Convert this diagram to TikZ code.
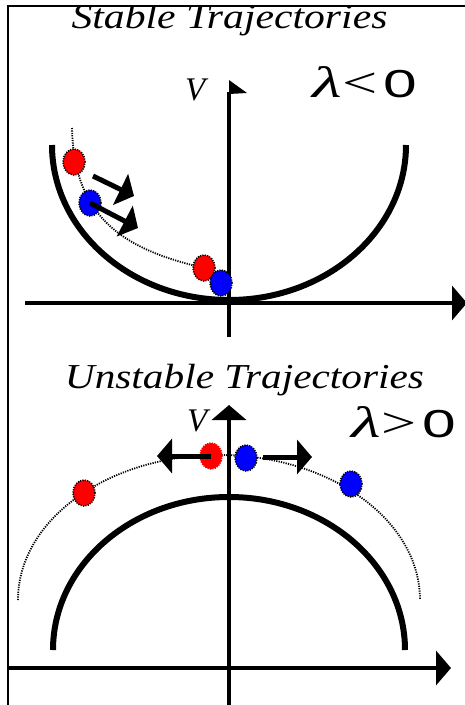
\documentclass[tikz,border=0pt]{standalone}
\usepackage{fontspec}
\setmainfont{Liberation Serif}
\setsansfont{Liberation Sans}
\usetikzlibrary{arrows.meta,shapes.geometric}
\newcommand{\lamsym}{\scalebox{1.55}[1]{\fontsize{44}{44}\selectfont\textit{λ}}}
\newcommand{\zerosym}{\scalebox{1.55}[1]{\textsf{0}}}
\begin{document}
\begin{tikzpicture}[x=1pt,y=-1pt,
  frameline/.style={line width=2pt},
  axisline/.style={line width=4pt},
  potential/.style={line width=6pt},
  traj/.style={line width=1.8pt, dash pattern=on 1.2pt off 1.2pt},
  ball/.style={ellipse, minimum width=22pt, minimum height=26pt, inner sep=0pt,
    draw=black, dash pattern=on 1.2pt off 1.2pt, line width=1.6pt},
  push/.style={line width=5pt, -{Triangle[length=15pt,width=34pt]}},
  axtip/.style={-{Triangle[length=15pt,width=34pt]}},
  title/.style={font=\fontsize{35}{35}\selectfont\itshape, anchor=base, inner sep=0pt},
  lab/.style={font=\fontsize{33}{33}\selectfont\itshape, anchor=base west, inner sep=0pt},
  lam/.style={font=\fontsize{39}{39}\selectfont, anchor=base west, inner sep=0pt}]
\useasboundingbox (0,0) rectangle (465,705);

% ---------- stable ----------
\node[title] (t1) at (229.5,28) {\scalebox{1.19}[1]{Stable Trajectories}};
\fill[white] (0,0) rectangle (465,5);
\draw[frameline] (8,6) -- (465,6);
\draw[frameline] (8,5) -- (8,705);

\draw[line width=4pt] (229,337) -- (229,92);
\fill (229,80) -- (247,93) -- (229,94) -- cycle;
\draw[axisline, axtip] (25,303) -- (467,303);
\draw[potential] (52,145) arc[start angle=180, end angle=0, x radius=177, y radius=155];

\node[lab] (v1) at (185,100) {V};
\node[lam] (l1) at (312,97) {\lamsym\hspace{1pt}\scalebox{1.6}[1.1]{<}\hspace{6pt}\zerosym};

\coordinate (s0) at (72,128);
\coordinate (s1) at (200,267);
\draw[traj] (s0) .. controls (74,215) and (120,248) .. (s1);
\node[ball, fill=red] (r1) at (74,162) {};
\node[ball, fill=blue] (b1) at (90,203) {};
\node[ball, fill=red] (r2) at (204,268) {};
\node[ball, fill=blue] (b2) at (221,283) {};

\coordinate (a1s) at (93,176);
\coordinate (a1e) at (134,196);
\coordinate (a2e) at (138,228);
\draw[push] (a1s) -- (a1e);
\draw[push] (b1.center) -- (a2e);

% ---------- unstable ----------
\node[title] (t2) at (244.5,388) {\scalebox{1.18}[1]{Unstable Trajectories}};
\draw[axisline, axtip] (229,705) -- (229,405);
\draw[axisline, axtip] (8,668) -- (451,668);
\draw[potential] (53,650) arc[start angle=180, end angle=360, x radius=176, y radius=153];
\draw[traj] (18,600) arc[start angle=180, end angle=360, x radius=201, y radius=145];

\node[lab] (v2) at (187,431) {V};
\node[lam] (l2) at (351,437) {\lamsym\hspace{1pt}\scalebox{1.6}[1.1]{>}\hspace{6pt}\zerosym};

\node[ball, fill=red] (r3) at (84,493) {};
\node[ball, fill=red, draw=red] (r4) at (211,456) {};
\node[ball, fill=blue] (b3) at (246,458) {};
\node[ball, fill=blue] (b4) at (351,484) {};

\coordinate (a3e) at (157,456);
\coordinate (a4s) at (263,457);
\coordinate (a4e) at (312,457);
\draw[push] (r4.center) -- (a3e);
\draw[push] (a4s) -- (a4e);
\end{tikzpicture}
\end{document}
